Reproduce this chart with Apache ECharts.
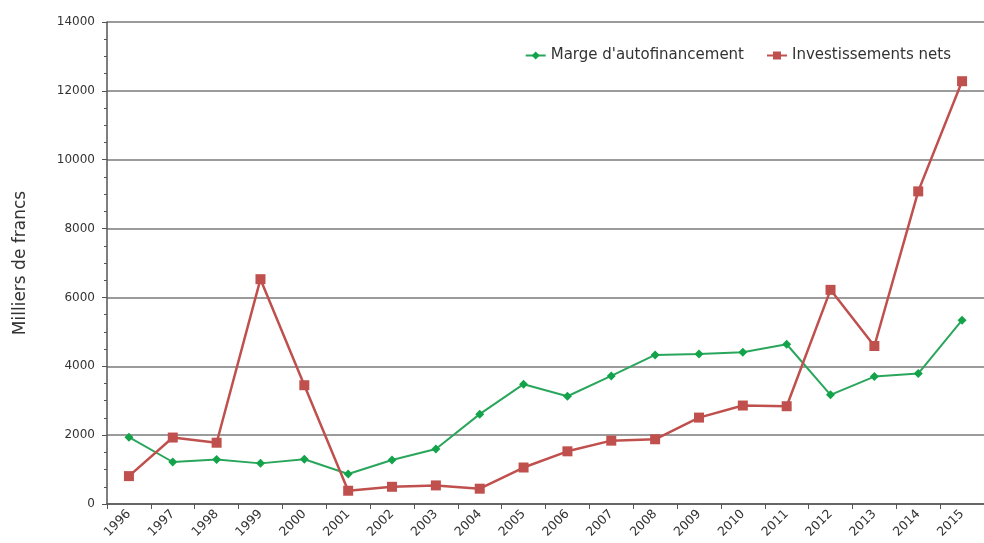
<!DOCTYPE html>
<html>
<head>
<meta charset="utf-8">
<script src="https://cdn.jsdelivr.net/npm/echarts@6/dist/echarts.min.js"></script>
<style>
html,body{margin:0;padding:0;background:#fff;}
#chart{width:984px;height:543px;}
</style>
</head>
<body>
<div id="chart"></div>
<script>
var years = ['1996','1997','1998','1999','2000','2001','2002','2003','2004','2005',
	'2006','2007','2008','2009','2010','2011','2012','2013','2014','2015'];
var marge = [1940,1220,1290,1180,1300,870,1280,1600,2610,3480,
	3130,3720,4330,4360,4410,4640,3170,3700,3790,5340];
var invest = [810,1930,1780,6530,3450,385,500,540,445,1060,
	1530,1840,1880,2510,2860,2840,6220,4590,9080,12280];

var txtColor = '#333';
var fontFam = '"DejaVu Sans", Verdana, sans-serif';

var myChart = echarts.init(document.getElementById('chart'));
var option = {
	backgroundColor:'#fff',
	animation:false,
	textStyle:{fontFamily:fontFam},
	grid:{left:107,right:-10,top:22,bottom:39},
	legend:{
		top:43,
		right:28,
		itemWidth:20,
		itemHeight:10,
		itemGap:22,
		textStyle:{fontSize:15,color:txtColor,fontFamily:fontFam},
		data:["Marge d'autofinancement",'Investissements nets']
	},
	xAxis:{
		type:'category',
		data:years,
		boundaryGap:true,
		axisLine:{lineStyle:{color:'#555',width:1.5}},
		axisTick:{show:true,alignWithLabel:false,length:5,lineStyle:{color:'#555'}},
		axisLabel:{rotate:45,fontSize:12.5,color:txtColor,margin:8,interval:0}
	},
	yAxis:{
		type:'value',
		min:0,
		max:14000,
		interval:2000,
		name:'Milliers de francs',
		nameLocation:'middle',
		nameGap:78,
		nameTextStyle:{fontSize:17,color:txtColor},
		axisLine:{show:true,lineStyle:{color:'#555',width:1.5}},
		axisTick:{show:true,length:5,lineStyle:{color:'#555'}},
		minorTick:{show:true,splitNumber:4,length:3,lineStyle:{color:'#555'}},
		axisLabel:{fontSize:12,color:txtColor,margin:12,formatter:function(v){return String(v);}},
		splitLine:{show:true,lineStyle:{color:'#7a7a7a',width:1.5}}
	},
	series:[
		{
			name:"Marge d'autofinancement",
			type:'line',
			data:marge,
			symbol:'diamond',
			symbolSize:9,
			lineStyle:{color:'#2aa65c',width:2},
			itemStyle:{color:'#13a34a'}
		},
		{
			name:'Investissements nets',
			type:'line',
			data:invest,
			symbol:'rect',
			symbolSize:10,
			lineStyle:{color:'#c0504d',width:2.5},
			itemStyle:{color:'#c0504d'}
		}
	]
};
myChart.setOption(option);
</script>
</body>
</html>
